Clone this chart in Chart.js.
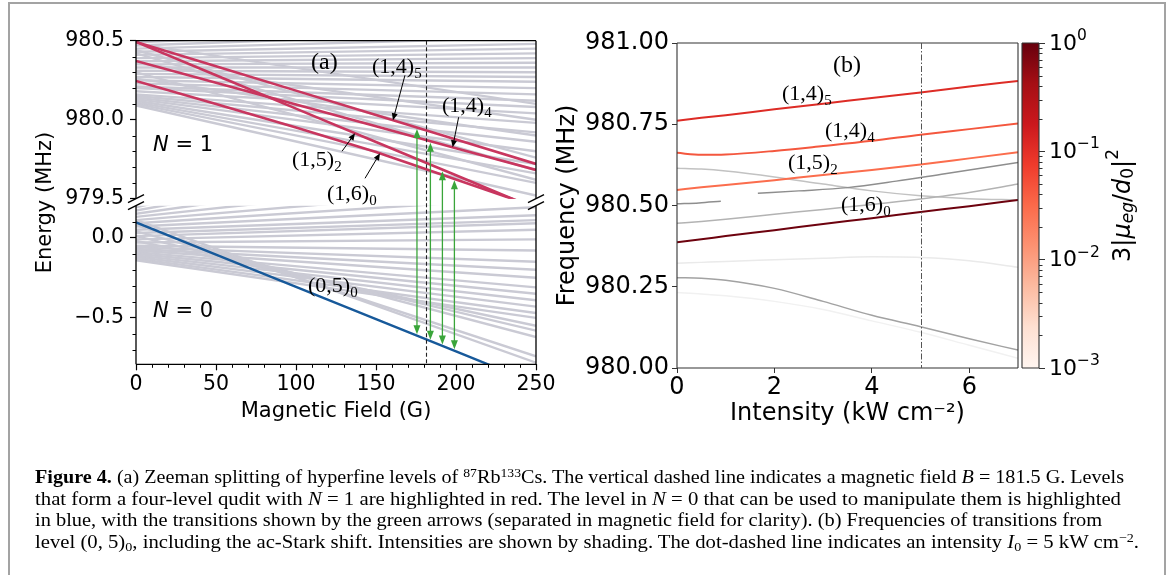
<!DOCTYPE html>
<html>
<head>
<meta charset="utf-8">
<script src="https://cdn.jsdelivr.net/npm/chart.js@4.4.1/dist/chart.umd.min.js"></script>
<style>
  html, body { margin: 0; padding: 0; background: #fff; }
  body { width: 1171px; height: 575px; position: relative; overflow: hidden; }
  canvas { position: absolute; }
  #frame { position: absolute; left: 8px; top: 2px; width: 1154px; height: 620px;
           border: 2px solid #a3a3a3; border-bottom: none; pointer-events: none; }
  .cap { position: absolute; left: 35px; white-space: nowrap; font-family: 'Liberation Serif', serif;
         font-size: 18.5px; line-height: 22px; color: #000; transform-origin: 0 50%; }
  .cap sup, .cap sub { font-size: 0.68em; line-height: 0; }
  .cap sup { vertical-align: 0.5em; }
  .cap sub { vertical-align: -0.25em; }
</style>
</head>
<body>
<canvas id="aTop" width="560" height="440" style="left:0;top:0"></canvas>
<canvas id="aBot" width="560" height="440" style="left:0;top:0"></canvas>
<canvas id="b" width="477" height="440" style="left:553px;top:0"></canvas>
<canvas id="cbar" width="171" height="440" style="left:1000px;top:0"></canvas>
<div id="frame"></div>

<div class="cap" style="top:466px"><b>Figure 4.</b> (a) Zeeman splitting of hyperfine levels of <sup>87</sup>Rb<sup>133</sup>Cs. The vertical dashed line indicates a magnetic field <i>B</i> = 181.5 G. Levels</div>
<div class="cap" style="top:487.5px">that form a four-level qudit with <i>N</i> = 1 are highlighted in red. The level in <i>N</i> = 0 that can be used to manipulate them is highlighted</div>
<div class="cap" style="top:509px">in blue, with the transitions shown by the green arrows (separated in magnetic field for clarity). (b) Frequencies of transitions from</div>
<div class="cap" style="top:530.5px">level (0, 5)<sub>0</sub>, including the ac-Stark shift. Intensities are shown by shading. The dot-dashed line indicates an intensity <i>I</i><sub>0</sub> = 5 kW cm<sup>−2</sup>.</div>

<script>
// ---------- panel (a): Zeeman levels ----------
const fieldB = [0, 50, 100, 150, 200, 250]                 // G
const level145 = [980.492, 980.338, 980.184, 980.029, 979.875, 979.720]
const level144 = [980.372, 980.234, 980.096, 979.958, 979.820, 979.682]
const level152 = [980.492, 980.281, 980.070, 979.859, 979.648, 979.437]
const level160 = [980.245, 980.099, 979.951, 979.796, 979.622, 979.447]
const level050 = [0.096, -0.106, -0.307, -0.508, -0.710, -0.911]

// other levels, energy at B = 0 and B = 250 G
const fieldSpan = [0, 250]
const grayN1Start = [980.09, 980.10, 980.11, 980.12, 980.13, 980.14, 980.15, 980.16, 980.18, 980.20,
  980.21, 980.23, 980.25, 980.27, 980.29, 980.31, 980.33, 980.35, 980.37, 980.39,
  980.41, 980.43, 980.45, 980.47, 980.49, 980.50, 980.52, 980.55, 980.60, 980.65,
  980.30, 980.26, 980.44, 980.48, 980.36, 980.42]
const grayN1End = [979.52, 979.60, 979.66, 979.72, 979.80, 979.86, 979.92, 979.98, 980.04, 980.08,
  980.12, 980.16, 980.20, 980.24, 980.27, 980.30, 980.33, 980.36, 980.39, 980.42,
  980.45, 980.48, 980.52, 980.56, 980.60, 980.64, 980.70, 980.76, 980.84, 980.92,
  979.62, 979.90, 979.76, 980.10, 980.00, 979.68]
const grayN0Start = [0.21, 0.19, 0.17, 0.15, 0.13, 0.11, 0.09, 0.07, 0.05, 0.03, 0.01, -0.01, -0.03, -0.05,
  -0.06, -0.07, -0.08, -0.09, -0.10, -0.11, -0.12, -0.13, -0.14, 0.01, 0.04, 0.08, 0.11, -0.02]
const grayN0End = [0.95, 0.78, 0.62, 0.50, 0.40, 0.32, 0.25, 0.19, 0.14, 0.11, 0.09, 0.05, -0.01, -0.08,
  -0.15, -0.20, -0.25, -0.31, -0.35, -0.39, -0.43, -0.47, -0.50, -0.58, -0.62, -0.74, -0.78, -0.55]

const quditField = 181.5
const arrowField = [175.6, 184, 191.5, 199]
const fieldTicks = [0, 50, 100, 150, 200, 250]
const fieldMinor = [10, 20, 30, 40, 60, 70, 80, 90, 110, 120, 130, 140, 160, 170, 180, 190, 210, 220, 230, 240]
const energyTicksN1 = [979.5, 980.0, 980.5]
const energyMinorN1 = [979.6, 979.7, 979.8, 979.9, 980.1, 980.2, 980.3, 980.4]
const energyTicksN0 = [-0.5, 0.0]
const energyMinorN0 = [-0.7, -0.6, -0.4, -0.3, -0.2, -0.1, 0.1]

// ---------- panel (b): transition frequencies vs intensity ----------
const intensity = [0, 0.5, 1, 2, 3, 4, 5, 6, 7]            // kW cm^-2
const freq145 = [980.761, 980.770, 980.778, 980.796, 980.813, 980.831, 980.848, 980.866, 980.883]
const freq144 = [980.662, 980.656, 980.657, 980.668, 980.683, 980.699, 980.718, 980.735, 980.752]
const freq152 = [980.548, 980.556, 980.563, 980.578, 980.594, 980.609, 980.626, 980.645, 980.664]
const freq160 = [980.387, 980.396, 980.406, 980.424, 980.443, 980.461, 980.480, 980.498, 980.517]
const freqG1 = [980.615, 980.612, 980.606, 980.588, 980.566, 980.545, 980.530, 980.521, 980.517]
const freqG3 = [980.445, 980.451, 980.458, 980.473, 980.488, 980.503, 980.520, 980.540, 980.566]
const freqG4 = [980.322, 980.325, 980.328, 980.333, 980.338, 980.342, 980.340, 980.330, 980.310]
const freqG5 = [980.278, 980.276, 980.270, 980.245, 980.205, 980.162, 980.127, 980.090, 980.055]
const freqG6 = [980.232, 980.228, 980.222, 980.205, 980.180, 980.145, 980.110, 980.070, 980.030]
const intensityG2 = [0, 0.45, 0.9, 1.3, 1.66, 2.5, 3.5, 4.5, 5.5, 7]
const freqG2 = [980.505, 980.508, 980.513, null, 980.538, 980.545, 980.555, 980.575, 980.598, 980.632]
const starkI0 = 5
const intensityTicks = [0, 2, 4, 6]
const freqTicks = [980.00, 980.25, 980.50, 980.75, 981.00]

// ---------- colour bar ----------
const strengthTicks = [1e-3, 1e-2, 1e-1, 1]
const strengthMinor = [0.002, 0.003, 0.004, 0.005, 0.006, 0.007, 0.008, 0.009,
  0.02, 0.03, 0.04, 0.05, 0.06, 0.07, 0.08, 0.09, 0.2, 0.3, 0.4, 0.5, 0.6, 0.7, 0.8, 0.9]
const redsStops = ['#fff5f0', '#fee0d2', '#fcbba1', '#fc9272', '#fb6a4a', '#ef3b2c', '#cb181d', '#a50f15', '#67000d']

// ---------- styles ----------
const RED_A = '#c8365f'
const BLUE_A = '#17599a'
const GRAY_A = '#cacad4'
const GREEN = '#3aa53a'
const fontA = { family: 'DejaVu Sans', size: 20.5 }
const fontB = { family: 'DejaVu Sans', size: 24 }
const SERIF = '"Liberation Serif", serif'

Chart.defaults.color = '#000'
Chart.defaults.font.family = 'DejaVu Sans'

const pts = (xs, ys) => xs.map((x, i) => ({ x, y: ys[i] }))
const line = (xs, ys, color, width, extra) =>
  Object.assign({ data: pts(xs, ys), borderColor: color, borderWidth: width, pointRadius: 0, fill: false }, extra || {})
const fixTicks = vals => s => { s.ticks = vals.map(v => ({ value: v })) }
const minus = v => (v < 0 ? '\u2212' : '') + Math.abs(v).toFixed(1)

function interp(xs, ys, x) {
  for (let i = 1; i < xs.length; i++) {
    if (x <= xs[i]) {
      const t = (x - xs[i - 1]) / (xs[i] - xs[i - 1])
      return ys[i - 1] + t * (ys[i] - ys[i - 1])
    }
  }
  return ys[ys.length - 1]
}

function spines(ctx, a, sides, color, lw) {
  ctx.save()
  ctx.strokeStyle = color
  ctx.lineWidth = lw
  ctx.beginPath()
  if (sides.includes('l')) { ctx.moveTo(a.left, a.top); ctx.lineTo(a.left, a.bottom) }
  if (sides.includes('r')) { ctx.moveTo(a.right, a.top); ctx.lineTo(a.right, a.bottom) }
  if (sides.includes('t')) { ctx.moveTo(a.left, a.top); ctx.lineTo(a.right, a.top) }
  if (sides.includes('b')) { ctx.moveTo(a.left, a.bottom); ctx.lineTo(a.right, a.bottom) }
  ctx.stroke()
  ctx.restore()
}

function minorTicks(ctx, scale, values, len, side, color) {
  ctx.save()
  ctx.strokeStyle = color
  ctx.lineWidth = 1
  ctx.beginPath()
  values.forEach(v => {
    const p = Math.round(scale.getPixelForValue(v)) + 0.5
    if (side === 'left') { ctx.moveTo(scale.right, p); ctx.lineTo(scale.right - len, p) }
    else if (side === 'right') { ctx.moveTo(scale.left, p); ctx.lineTo(scale.left + len, p) }
    else { ctx.moveTo(p, scale.top); ctx.lineTo(p, scale.top + len) }
  })
  ctx.stroke()
  ctx.restore()
}

function head(ctx, x1, y1, x2, y2, len, half) {
  const ang = Math.atan2(y2 - y1, x2 - x1)
  const c = Math.cos(ang), s = Math.sin(ang)
  ctx.beginPath()
  ctx.moveTo(x2, y2)
  ctx.lineTo(x2 - len * c + half * s, y2 - len * s - half * c)
  ctx.lineTo(x2 - len * c - half * s, y2 - len * s + half * c)
  ctx.closePath()
  ctx.fill()
}

function arrow(ctx, x1, y1, x2, y2, color, lw, len, half, both) {
  ctx.save()
  ctx.strokeStyle = color
  ctx.fillStyle = color
  ctx.lineWidth = lw
  const d = Math.hypot(x2 - x1, y2 - y1)
  const ux = (x2 - x1) / d, uy = (y2 - y1) / d
  ctx.beginPath()
  ctx.moveTo(x1 + (both ? ux * len * 0.8 : 0), y1 + (both ? uy * len * 0.8 : 0))
  ctx.lineTo(x2 - ux * len * 0.8, y2 - uy * len * 0.8)
  ctx.stroke()
  head(ctx, x1, y1, x2, y2, len, half)
  if (both) head(ctx, x2, y2, x1, y1, len, half)
  ctx.restore()
}

function rich(ctx, x, y, parts, measureOnly) {
  let cx = x
  for (const p of parts) {
    ctx.font = p.f
    if (!measureOnly) ctx.fillText(p.t, cx, y + (p.dy || 0))
    cx += ctx.measureText(p.t).width
  }
  return cx - x
}

function levelLabel(ctx, x, y, main, sub) {
  rich(ctx, x, y, [{ t: main, f: '22px ' + SERIF }, { t: sub, f: '15px ' + SERIF, dy: 5 }])
}

function nLabel(ctx, x, y, n) {
  rich(ctx, x, y, [{ t: 'N', f: 'italic 21px "DejaVu Sans"' }, { t: ' = ' + n, f: '21px "DejaVu Sans"' }])
}

const baseOpts = {
  responsive: false,
  animation: false,
  devicePixelRatio: 1,
  plugins: { legend: { display: false }, tooltip: { enabled: false } },
  elements: { point: { radius: 0 }, line: { tension: 0, borderCapStyle: 'butt' } }
}

// ---------- panel (a), N = 1 part ----------
const grayN1 = grayN1Start.map((s, i) => line(fieldSpan, [s, grayN1End[i]], GRAY_A, 2.4))
const topChart = new Chart('aTop', {
  type: 'line',
  data: {
    datasets: [
      line(fieldB, level145, RED_A, 2.6),
      line(fieldB, level144, RED_A, 2.6),
      line(fieldB, level152, RED_A, 2.6),
      line(fieldB, level160, RED_A, 2.6),
      ...grayN1
    ]
  },
  options: {
    ...baseOpts,
    layout: { padding: { top: 40.7, bottom: 241.3, left: 0, right: 24 } },
    scales: {
      x: { type: 'linear', display: false, min: 0, max: 250 },
      y: {
        type: 'linear', min: 979.5, max: 980.5,
        afterFit: s => { s.width = 136 },
        afterBuildTicks: fixTicks(energyTicksN1),
        ticks: { font: fontA, padding: 6, callback: v => v.toFixed(1) },
        grid: { drawOnChartArea: false, tickLength: 6, tickColor: '#000', tickWidth: 1.2 },
        border: { display: false }
      }
    }
  },
  plugins: [{
    id: 'aTopDecor',
    afterDraw(c) {
      const ctx = c.ctx, a = c.chartArea
      spines(ctx, a, 'lrt', '#000', 1.3)
      minorTicks(ctx, c.scales.y, energyMinorN1, 3.5, 'left', '#000')
    }
  }]
})

// ---------- panel (a), N = 0 part (drawn on the overlay canvas) ----------
const grayN0 = grayN0Start.map((s, i) => line(fieldSpan, [s, grayN0End[i]], GRAY_A, 2.4))
const highlighted = [level145, level144, level152, level160]
const labelTips = [
  { lvl: level145, b: 160.6, dx: 12, dy: -45, main: '(1,4)', sub: '5', lx: 372, ly: 73 },
  { lvl: level144, b: 197.9, dx: 6, dy: -30, main: '(1,4)', sub: '4', lx: 442, ly: 111.5 },
  { lvl: level152, b: 136.9, dx: -13, dy: 18, main: '(1,5)', sub: '2', lx: 292, ly: 166 },
  { lvl: level160, b: 152.5, dx: -15, dy: 25, main: '(1,6)', sub: '0', lx: 327, ly: 199.5 }
]

const botChart = new Chart('aBot', {
  type: 'line',
  data: { datasets: [line(fieldB, level050, BLUE_A, 2.4), ...grayN0] },
  options: {
    ...baseOpts,
    layout: { padding: { top: 205.7, bottom: 0, left: 0, right: 24 } },
    scales: {
      x: {
        type: 'linear', min: 0, max: 250,
        afterFit: s => { s.height = 75.7 },
        afterBuildTicks: fixTicks(fieldTicks),
        ticks: { font: fontA, padding: 2, maxRotation: 0, callback: v => String(v) },
        grid: { drawOnChartArea: false, tickLength: 6, tickColor: '#000', tickWidth: 1.2 },
        border: { display: false },
        title: { display: true, text: 'Magnetic Field (G)', font: { family: 'DejaVu Sans', size: 21 },
                 padding: { top: 0, bottom: 15.4 } }
      },
      y: {
        type: 'linear', min: -0.79, max: 0.2,
        afterFit: s => { s.width = 136 },
        afterBuildTicks: fixTicks(energyTicksN0),
        ticks: { font: fontA, padding: 6, callback: minus },
        grid: { drawOnChartArea: false, tickLength: 6, tickColor: '#000', tickWidth: 1.2 },
        border: { display: false }
      }
    }
  },
  plugins: [{
    id: 'aBotDecor',
    afterDraw(c) {
      const ctx = c.ctx, a = c.chartArea, xs = c.scales.x, ys = c.scales.y
      const ta = topChart.chartArea, tys = topChart.scales.y
      spines(ctx, a, 'lrb', '#000', 1.3)
      minorTicks(ctx, ys, energyMinorN0, 3.5, 'left', '#000')
      minorTicks(ctx, xs, fieldMinor, 3.5, 'bottom', '#000')

      // broken-axis marks
      ctx.save()
      ctx.strokeStyle = '#000'
      ctx.lineWidth = 1.3
      ;[a.left, a.right].forEach(x => {
        ;[ta.bottom, a.top].forEach(y => {
          ctx.beginPath(); ctx.moveTo(x - 8, y + 4); ctx.lineTo(x + 8, y - 4); ctx.stroke()
        })
      })
      ctx.restore()

      // B = 181.5 G
      const xq = Math.round(xs.getPixelForValue(quditField)) + 0.5
      ctx.save()
      ctx.strokeStyle = '#222'
      ctx.lineWidth = 1.1
      ctx.setLineDash([4, 2.5])
      ctx.beginPath(); ctx.moveTo(xq, ta.top); ctx.lineTo(xq, a.bottom); ctx.stroke()
      ctx.restore()

      // transitions (green)
      arrowField.forEach((b, i) => {
        const x = xs.getPixelForValue(b)
        const yTop = tys.getPixelForValue(interp(fieldB, highlighted[i], b)) + 1.5
        const yBot = ys.getPixelForValue(interp(fieldB, level050, b)) - 1.5
        arrow(ctx, x, yTop, x, yBot, GREEN, 1.3, 9, 3.5, true)
      })

      // level labels with pointers
      ctx.fillStyle = '#000'
      ctx.textBaseline = 'alphabetic'
      ctx.textAlign = 'left'
      labelTips.forEach(t => {
        const x2 = xs.getPixelForValue(t.b), y2 = tys.getPixelForValue(interp(fieldB, t.lvl, t.b))
        arrow(ctx, x2 + t.dx, y2 + t.dy, x2, y2, '#000', 1, 7, 3, false)
        ctx.fillStyle = '#000'
        levelLabel(ctx, t.lx, t.ly, t.main, t.sub)
      })
      levelLabel(ctx, 308, 291.5, '(0,5)', '0')
      ctx.font = '24px ' + SERIF
      ctx.fillText('(a)', 311, 69)
      nLabel(ctx, 153, 150.7, '1')
      nLabel(ctx, 153, 317, '0')

      // shared y title
      ctx.save()
      ctx.translate(46, (ta.top + a.bottom) / 2)
      ctx.rotate(-Math.PI / 2)
      ctx.textAlign = 'center'
      ctx.textBaseline = 'middle'
      ctx.font = '21px "DejaVu Sans"'
      ctx.fillText('Energy (MHz)', 0, 0)
      ctx.restore()
    }
  }]
})

// ---------- panel (b) ----------
const OFF_B = 553
const bChart = new Chart('b', {
  type: 'line',
  data: {
    datasets: [
      line(intensity, freq160, '#6d020e', 2),
      line(intensity, freq145, '#dd2c26', 2),
      line(intensity, freq144, '#f4573e', 2),
      line(intensity, freq152, '#fb6d4d', 2),
      line(intensity, freqG3, '#b3b3b3', 1.5),
      line(intensityG2, freqG2, '#8e8e8e', 1.5, { spanGaps: false }),
      line(intensity, freqG1, '#c2c2c2', 1.5),
      line(intensity, freqG5, '#a2a2a2', 1.5),
      line(intensity, freqG4, '#eaeaea', 1.5),
      line(intensity, freqG6, '#f1f1f1', 1.5)
    ]
  },
  options: {
    ...baseOpts,
    elements: { point: { radius: 0 }, line: { cubicInterpolationMode: 'monotone' } },
    layout: { padding: { top: 43, bottom: 0, left: 0, right: 12 } },
    scales: {
      x: {
        type: 'linear', min: 0, max: 7,
        afterFit: s => { s.height = 72 },
        afterBuildTicks: fixTicks(intensityTicks),
        ticks: { font: fontB, padding: 0, maxRotation: 0, callback: v => String(v) },
        grid: { drawOnChartArea: false, tickLength: 5, tickColor: '#333', tickWidth: 1 },
        border: { display: false },
        title: { display: true, text: 'Intensity (kW cm\u207B\u00B2)', font: fontB, padding: { top: 0, bottom: 11.6 } }
      },
      y: {
        type: 'linear', min: 980, max: 981,
        afterFit: s => { s.width = 124 },
        afterBuildTicks: fixTicks(freqTicks),
        ticks: { font: fontB, padding: 3, callback: v => v.toFixed(2) },
        grid: { drawOnChartArea: false, tickLength: 5, tickColor: '#333', tickWidth: 1 },
        border: { display: false },
        title: { display: true, text: 'Frequency (MHz)', font: fontB, padding: { top: 0, bottom: 0 } }
      }
    }
  },
  plugins: [{
    id: 'bDecor',
    afterDraw(c) {
      const ctx = c.ctx, a = c.chartArea, xs = c.scales.x
      spines(ctx, a, 'lrtb', '#333', 1.1)
      const x5 = Math.round(xs.getPixelForValue(starkI0)) + 0.5
      ctx.save()
      ctx.strokeStyle = '#555'
      ctx.lineWidth = 1
      ctx.setLineDash([6, 2, 1.5, 2])
      ctx.beginPath(); ctx.moveTo(x5, a.top); ctx.lineTo(x5, a.bottom); ctx.stroke()
      ctx.restore()
      ctx.fillStyle = '#000'
      ctx.textAlign = 'left'
      ctx.textBaseline = 'alphabetic'
      ctx.font = '24px ' + SERIF
      ctx.fillText('(b)', 833 - OFF_B, 71.5)
      levelLabel(ctx, 782 - OFF_B, 100, '(1,4)', '5')
      levelLabel(ctx, 825 - OFF_B, 136.5, '(1,4)', '4')
      levelLabel(ctx, 788 - OFF_B, 168.5, '(1,5)', '2')
      levelLabel(ctx, 841 - OFF_B, 211, '(1,6)', '0')
    }
  }]
})

// ---------- colour bar ----------
const OFF_C = 1000
const cChart = new Chart('cbar', {
  type: 'line',
  data: { datasets: [] },
  options: {
    ...baseOpts,
    layout: { padding: { top: 43, bottom: 72, left: 22, right: 0 } },
    scales: {
      x: { type: 'linear', display: false, min: 0, max: 1 },
      y: {
        type: 'logarithmic', position: 'right', min: 1e-3, max: 1,
        afterFit: s => { s.width = 132 },
        afterBuildTicks: fixTicks(strengthTicks),
        ticks: { display: false },
        grid: { drawOnChartArea: false, tickLength: 6, tickColor: '#333', tickWidth: 1 },
        border: { display: false }
      }
    }
  },
  plugins: [{
    id: 'cbarDecor',
    afterDraw(c) {
      const ctx = c.ctx, a = c.chartArea, ys = c.scales.y
      const g = ctx.createLinearGradient(0, ys.getPixelForValue(1e-3), 0, ys.getPixelForValue(1))
      redsStops.forEach((col, i) => g.addColorStop(i / (redsStops.length - 1), col))
      ctx.fillStyle = g
      ctx.fillRect(a.left, a.top, a.right - a.left, a.bottom - a.top)
      spines(ctx, a, 'lrtb', '#333', 1.1)
      minorTicks(ctx, ys, strengthMinor, 3.5, 'right', '#333')

      ctx.fillStyle = '#000'
      ctx.textAlign = 'left'
      ctx.textBaseline = 'middle'
      strengthTicks.forEach(v => {
        const y = ys.getPixelForValue(v) + 1
        const e = Math.round(Math.log10(v))
        rich(ctx, 1049 - OFF_C, y, [
          { t: '10', f: '22px "DejaVu Sans"' },
          { t: e === 0 ? '0' : '\u2212' + Math.abs(e), f: '15.5px "DejaVu Sans"', dy: -8 }
        ])
      })

      const parts = [
        { t: '3|', f: '24px "DejaVu Sans"' },
        { t: '\u03BC', f: 'italic 24px "DejaVu Sans"' },
        { t: 'eg', f: 'italic 17px "DejaVu Sans"', dy: 5 },
        { t: '/', f: '24px "DejaVu Sans"' },
        { t: 'd', f: 'italic 24px "DejaVu Sans"' },
        { t: '0', f: '17px "DejaVu Sans"', dy: 5 },
        { t: '|', f: '24px "DejaVu Sans"' },
        { t: '2', f: '17px "DejaVu Sans"', dy: -10 }
      ]
      ctx.save()
      ctx.translate(1124 - OFF_C, (a.top + a.bottom) / 2)
      ctx.rotate(-Math.PI / 2)
      ctx.textBaseline = 'middle'
      const w = rich(ctx, 0, 0, parts, true)
      rich(ctx, -w / 2, 0, parts)
      ctx.restore()
    }
  }]
})

// caption lines: fit to the printed line widths
const capRight = [1124, 1121, 1102, 1139]
document.querySelectorAll('.cap').forEach((el, i) => {
  const w = el.getBoundingClientRect().width
  el.style.transform = 'scaleX(' + ((capRight[i] - 35) / w).toFixed(4) + ')'
})
</script>
</body>
</html>
